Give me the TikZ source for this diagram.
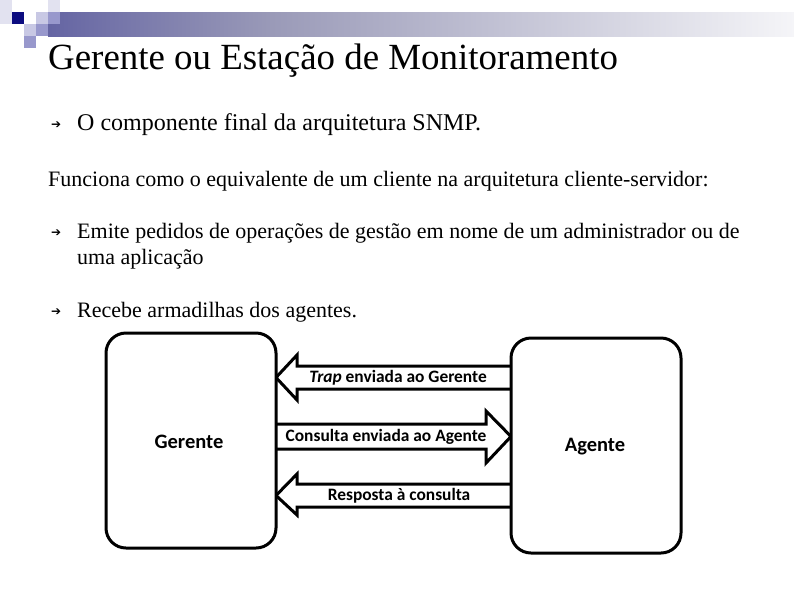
\documentclass[tikz,border=0pt]{standalone}
\usepackage{fontspec}
\setmainfont{Liberation Serif}
\newfontfamily\diafont{Carlito}
\newfontfamily\symfont{DejaVu Sans}
\definecolor{navy}{HTML}{0C0C80}
\definecolor{barmid}{HTML}{9A9AB8}
\definecolor{sqlight}{HTML}{C8C8E4}
\definecolor{sqmed}{HTML}{9898CC}
\definecolor{sqpale}{HTML}{E2E2F0}
\pgfdeclarehorizontalshading{barshade}{100bp}{color(0bp)=(navy); color(40bp)=(barmid); color(75bp)=(white!90!barmid); color(100bp)=(white)}
\tikzset{
  txt/.style={anchor=base west, inner sep=0pt, font=\fontsize{22}{26}\selectfont},
  bul/.style={anchor=base west, inner sep=0pt, font=\symfont\fontsize{12}{14}\selectfont},
  box/.style={draw=black, line width=3pt, rounded corners=20pt, fill=white},
  blk/.style={draw=black, line width=3pt, fill=white, line join=miter},
  lab/.style={inner sep=0pt, font=\diafont\bfseries\fontsize{17.4}{20}\selectfont},
  boxlab/.style={inner sep=0pt, font=\diafont\bfseries\fontsize{20.5}{24}\selectfont}
}
\begin{document}
\begin{tikzpicture}[x=1pt,y=-1pt]
\useasboundingbox[fill=white] (0,0) rectangle (794,595);
% decoration
\shade[shading=barshade] (48,12) rectangle (794,36);
\fill[sqpale] (0,0) rectangle (12,24);
\fill[navy] (12,12) rectangle (24,24);
\fill[sqlight] (36,12) rectangle (48,24);
\fill[sqpale] (48,0) rectangle (60,12);
\fill[sqmed] (48,12) rectangle (60,24);
\fill[sqlight] (24,24) rectangle (36,36);
\fill[sqmed] (36,24) rectangle (48,36);
\fill[sqmed] (24,36) rectangle (36,48);
% title
\node[anchor=base west, inner sep=0pt, font=\fontsize{36.9}{44}\selectfont] (title) at (48,69) {Gerente ou Estação de Monitoramento};
% bullets
\node[bul] (b1) at (51,128) {➔};
\node[txt, font=\fontsize{24}{28}\selectfont] (t1) at (77,130) {O componente final da arquitetura SNMP.};
\node[txt] (t2) at (48,186) {Funciona como o equivalente de um cliente na arquitetura cliente-servidor:};
\node[bul] (b2) at (51,236) {➔};
\node[txt] (t3) at (77,238) {Emite pedidos de operações de gestão em nome de um administrador ou de};
\node[txt] (t4) at (77,264) {uma aplicação};
\node[bul] (b3) at (51,315) {➔};
\node[txt] (t5) at (77,317) {Recebe armadilhas dos agentes.};
% arrows
\draw[blk] (511,366) -- (297,366) -- (297,355) -- (276,377.5) -- (297,400) -- (297,389) -- (511,389);
\draw[blk] (276,424) -- (486,424) -- (486,411) -- (511,436.5) -- (486,463) -- (486,449) -- (276,449);
\draw[blk] (511,484) -- (297,484) -- (297,474) -- (276,495.5) -- (297,515) -- (297,507) -- (511,507);
% boxes
\draw[box] (106,333) rectangle (276,548);
\draw[box] (511,338) rectangle (681,553);
\node[boxlab] (G) at (189,442) {Gerente};
\node[boxlab] (A) at (595,447) {Agente};
\node[lab] (l1) at (398,378) {\itshape Trap\upshape\ enviada ao Gerente};
\node[lab] (l2) at (386,437) {Consulta enviada ao Agente};
\node[lab] (l3) at (399,496) {Resposta à consulta};
\end{tikzpicture}
\end{document}
